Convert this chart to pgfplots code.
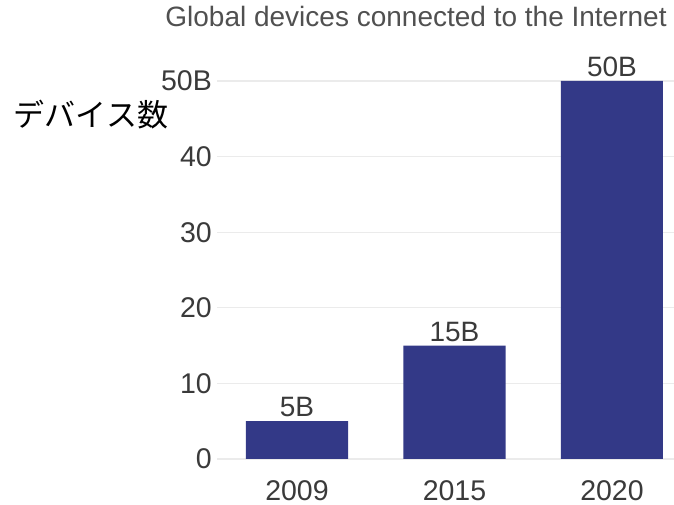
\documentclass[border=0pt]{standalone}
\usepackage{pgfplots}
\pgfplotsset{compat=1.18}
\usepackage{fontspec}
\setmainfont{Liberation Sans}
\newfontfamily\jp{Noto Sans CJK JP}
\definecolor{barblue}{HTML}{333987}
\definecolor{gridgray}{HTML}{EBEBEB}
\definecolor{ticktext}{HTML}{3A3A3A}
\definecolor{titletext}{HTML}{505050}
\begin{document}
\begin{tikzpicture}
\path[use as bounding box] (-217pt,-46pt) rectangle (457pt,459pt);
\begin{axis}[
  at={(0pt,0pt)}, anchor=south west,
  scale only axis, width=457pt, height=378pt,
  xmin=-0.508, xmax=2.394, ymin=0, ymax=50,
  axis line style={draw=none},
  major tick length=0pt,
  xtick={0,1,2}, xticklabels={2009,2015,2020},
  ytick={0,10,20,30,40,50}, yticklabels={0,10,20,30,40,50B},
  ymajorgrids, grid style={gridgray, line width=1.2pt},
  tick label style={font=\fontsize{28.5}{32}\selectfont, text=ticktext},
  yticklabel style={inner sep=0pt, xshift=-5pt},
  xticklabel style={inner sep=0pt, yshift=-21pt},
  title={Global devices connected to the Internet},
  title style={font=\fontsize{28}{32}\selectfont, text=titletext,
    at={(axis description cs:0.4355,1.155)}, anchor=center},
  ylabel={\jp デバイス数},
  ylabel style={font=\fontsize{31}{34}\selectfont, text=black, rotate=-90,
    at={(axis description cs:-0.2757,0.91)}, anchor=center},
]
\addplot[ybar, fill=barblue, draw=none, bar width=0.648,
  nodes near coords, point meta=explicit symbolic,
  nodes near coords style={font=\fontsize{28}{32}\selectfont, text=ticktext, inner sep=4pt}]
  coordinates {(0,5) [5B] (1,15) [15B] (2,50) [50B]};
\end{axis}
\end{tikzpicture}
\end{document}
